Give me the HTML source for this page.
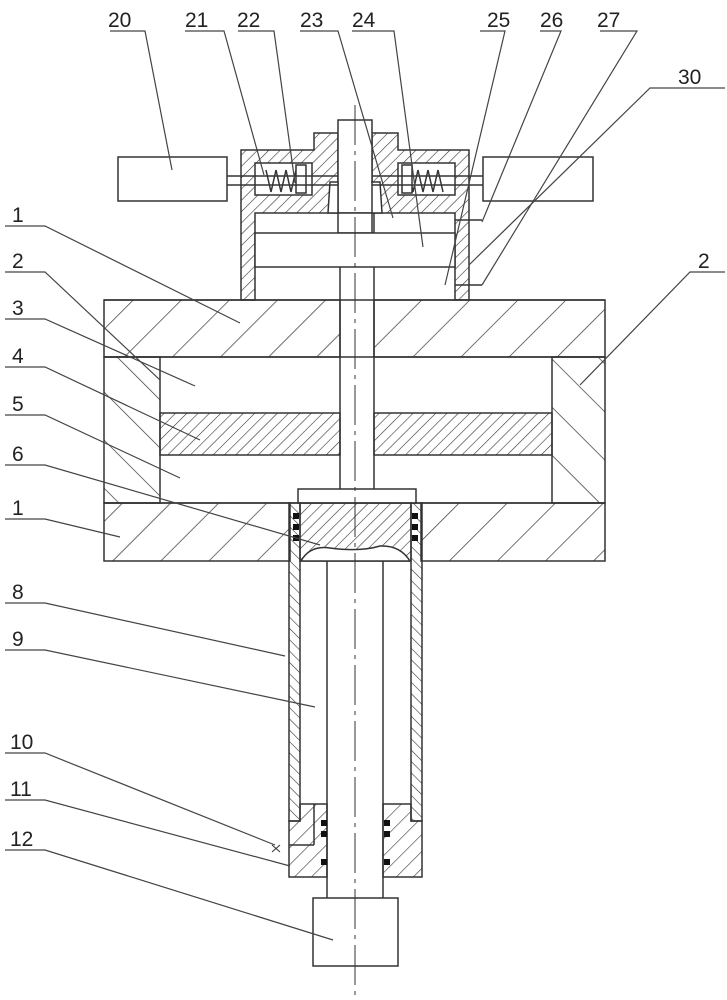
<!DOCTYPE html>
<html><head><style>html,body{margin:0;padding:0;background:#fff}svg{display:block}</style></head><body>
<svg width="727" height="1000" viewBox="0 0 727 1000" xmlns="http://www.w3.org/2000/svg" font-family="Liberation Sans, sans-serif">
<defs>
<pattern id="hb" patternUnits="userSpaceOnUse" width="34" height="34" patternTransform="rotate(45)"><line x1="0" y1="0" x2="0" y2="34" stroke="#333" stroke-width="1.4"/></pattern>
<pattern id="hs" patternUnits="userSpaceOnUse" width="8" height="8" patternTransform="rotate(45)"><line x1="0" y1="0" x2="0" y2="8" stroke="#333" stroke-width="1.2"/></pattern>
<pattern id="hm" patternUnits="userSpaceOnUse" width="12" height="12" patternTransform="rotate(45)"><line x1="0" y1="0" x2="0" y2="12" stroke="#333" stroke-width="1.2"/></pattern>
<pattern id="hw" patternUnits="userSpaceOnUse" width="34" height="34" patternTransform="rotate(-45)"><line x1="0" y1="0" x2="0" y2="34" stroke="#333" stroke-width="1.4"/></pattern>
<pattern id="ht" patternUnits="userSpaceOnUse" width="8" height="8" patternTransform="rotate(-45)"><line x1="0" y1="0" x2="0" y2="8" stroke="#333" stroke-width="1.2"/></pattern>
</defs>
<g stroke="#333" stroke-width="1.5" fill="none">
<!-- top plate -->
<rect x="104" y="300" width="236" height="57" fill="url(#hb)"/>
<rect x="374" y="300" width="231" height="57" fill="url(#hb)"/>
<line x1="104" y1="300" x2="605" y2="300"/><line x1="104" y1="357" x2="605" y2="357"/>
<!-- walls -->
<rect x="104" y="357" width="56" height="146" fill="url(#hw)"/>
<rect x="552" y="357" width="53" height="146" fill="url(#hw)"/>
<!-- plate 4 -->
<rect x="160" y="413" width="180" height="42" fill="url(#hs)"/>
<rect x="374" y="413" width="178" height="42" fill="url(#hs)"/>
<!-- bottom plate -->
<rect x="104" y="503" width="186" height="58" fill="url(#hb)"/>
<rect x="421" y="503" width="184" height="58" fill="url(#hb)"/>
<line x1="104" y1="503" x2="605" y2="503"/>
<!-- shaft -->
<line x1="340" y1="213" x2="340" y2="489"/><line x1="374" y1="213" x2="374" y2="489"/>
<rect x="298" y="489" width="118" height="14" fill="#fff"/>
<!-- piston 6 -->
<path d="M300 503 H411 V561 H300 Z" fill="url(#hs)"/>
<path d="M301 561 Q310 545 330 548 Q360 552 380 546 Q400 545 410 561 Z" fill="#fff" stroke="#333"/>
<!-- tube 8 -->
<rect x="289" y="503" width="11" height="318" fill="url(#ht)"/>
<rect x="411" y="503" width="11" height="318" fill="url(#ht)"/>
<line x1="327" y1="561" x2="327" y2="898"/><line x1="383" y1="561" x2="383" y2="898"/>
<!-- bottom block 10/11 -->
<path d="M289 821 H300 V804 H327 V877 H289 Z" fill="url(#hm)"/>
<path d="M383 804 H411 V821 H422 V877 H383 Z" fill="url(#hm)"/>
<line x1="314" y1="804" x2="314" y2="845"/><line x1="289" y1="845" x2="314" y2="845"/>
<rect x="313" y="898" width="85" height="68" fill="#fff"/>
<!-- top housing -->
<path d="M241 300 V150 H314 V133 H338 V213 H255 V300 Z" fill="url(#hs)"/>
<path d="M469 300 V150 H398 V133 H372 V213 H455 V300 Z" fill="url(#hs)"/>
<rect x="255" y="163" width="57" height="32" fill="#fff"/>
<rect x="398" y="163" width="57" height="32" fill="#fff"/>
<path d="M338 120 H372 V182 L374 213 H338 L338 182 Z" fill="#fff"/>
<path d="M330 182 L338 182 L338 213 L328 213 Z M380 182 L372 182 L372 213 L382 213 Z" fill="#fff"/>
<rect x="338" y="213" width="34" height="20" fill="#fff"/>
<rect x="255" y="233" width="200" height="34" fill="#fff"/>
<!-- springs -->
<polyline points="266,170 271,192 276,170 281,192 286,170 291,192 296,170 301,192"/>
<polyline points="408,170 413,192 418,170 423,192 428,170 433,192 438,170 443,192"/>
<rect x="296" y="165" width="10" height="28" fill="#fff"/>
<rect x="402" y="165" width="10" height="28" fill="#fff"/>
<!-- rods -->
<line x1="227" y1="176" x2="338" y2="176"/><line x1="227" y1="185" x2="338" y2="185"/>
<line x1="372" y1="176" x2="483" y2="176"/><line x1="372" y1="185" x2="483" y2="185"/>
<!-- handles -->
<rect x="118" y="157" width="109" height="44" fill="#fff"/>
<rect x="483" y="157" width="110" height="44" fill="#fff"/>
<!-- seals -->
<g fill="#111" stroke="none">
<rect x="293" y="513" width="6" height="6"/><rect x="293" y="524" width="6" height="6"/><rect x="293" y="535" width="6" height="6"/>
<rect x="412" y="513" width="6" height="6"/><rect x="412" y="524" width="6" height="6"/><rect x="412" y="535" width="6" height="6"/>
<rect x="321" y="820" width="6" height="6"/><rect x="321" y="831" width="6" height="6"/><rect x="321" y="859" width="6" height="6"/>
<rect x="384" y="820" width="6" height="6"/><rect x="384" y="831" width="6" height="6"/><rect x="384" y="859" width="6" height="6"/>
</g>
<!-- center line -->
<line x1="355" y1="105" x2="355" y2="995" stroke-width="1" stroke-dasharray="40,6,4,6"/>
<!-- marks -->
<line x1="455" y1="220" x2="482" y2="220"/><line x1="455" y1="285" x2="482" y2="285"/>
<line x1="272" y1="845" x2="280" y2="852" stroke-width="1"/><line x1="280" y1="845" x2="272" y2="852" stroke-width="1"/>
</g>
<!-- leaders -->
<g stroke="#444" stroke-width="1.2" fill="none">
<polyline points="110,31 145,31 172,170"/>
<polyline points="185,31 224,31 264,175"/>
<polyline points="238,31 274,31 295,183"/>
<polyline points="300,31 338,31 393,218"/>
<polyline points="352,31 394,31 423,247"/>
<polyline points="480,31 505,31 445,285"/>
<polyline points="540,31 561,31 482,222"/>
<polyline points="600,31 637,31 482,285"/>
<polyline points="725,88 650,88 469,265"/>
<polyline points="725,272 690,272 580,385"/>
<polyline points="5,226 45,226 240,323"/>
<polyline points="5,272 45,272 160,380"/>
<polyline points="5,319 45,319 195,386"/>
<polyline points="5,367 45,367 200,440"/>
<polyline points="5,415 45,415 180,478"/>
<polyline points="5,465 45,465 320,545"/>
<polyline points="5,519 45,519 120,537"/>
<polyline points="5,603 45,603 285,656"/>
<polyline points="5,650 45,650 315,707"/>
<polyline points="5,753 45,753 275,845"/>
<polyline points="5,800 45,800 290,866"/>
<polyline points="5,850 45,850 333,940"/>
</g>
<g font-size="21" fill="#222">
<text x="108" y="27">20</text><text x="185" y="27">21</text><text x="237" y="27">22</text><text x="300" y="27">23</text><text x="352" y="27">24</text><text x="487" y="27">25</text><text x="540" y="27">26</text><text x="597" y="27">27</text>
<text x="678" y="84">30</text><text x="698" y="268">2</text>
<text x="12" y="222">1</text><text x="12" y="268">2</text><text x="12" y="315">3</text><text x="12" y="363">4</text><text x="12" y="411">5</text><text x="12" y="461">6</text><text x="12" y="515">1</text><text x="12" y="599">8</text><text x="12" y="646">9</text><text x="10" y="749">10</text><text x="10" y="796">11</text><text x="10" y="846">12</text>
</g>
</svg>
</body></html>
